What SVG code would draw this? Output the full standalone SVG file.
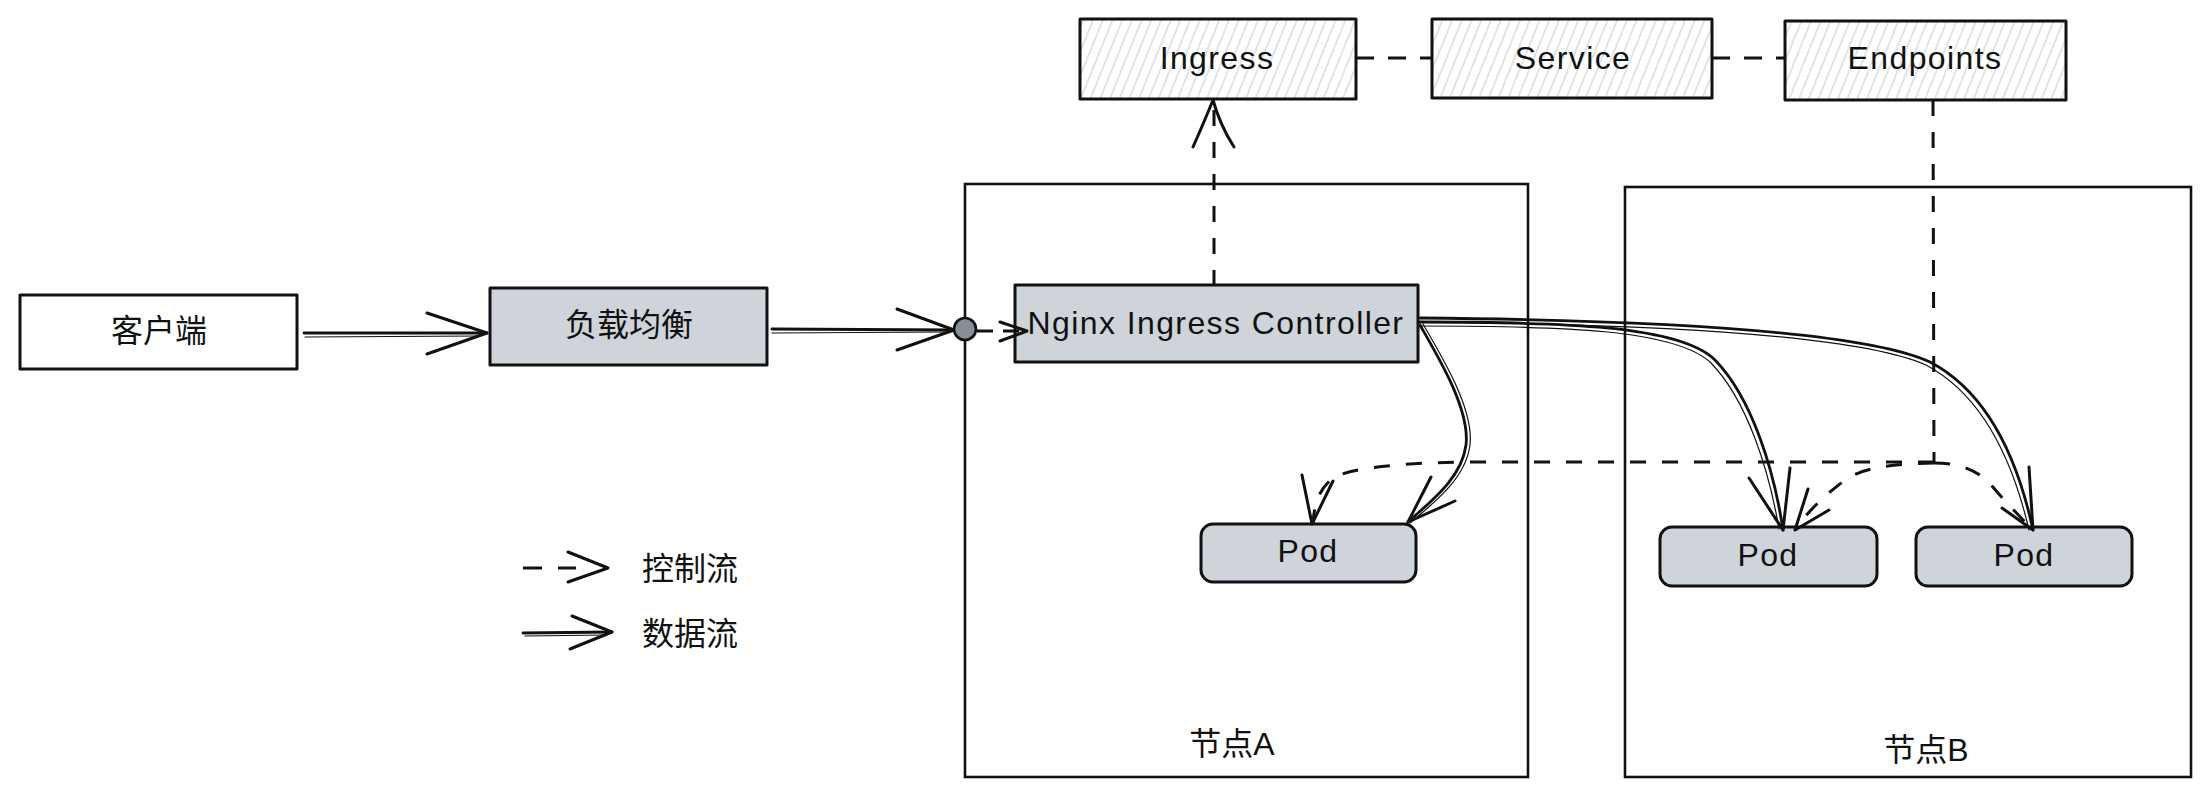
<svg xmlns="http://www.w3.org/2000/svg" width="2208" height="799" viewBox="0 0 2208 799">
<defs>
<pattern id="hatch" width="9" height="9" patternUnits="userSpaceOnUse" patternTransform="rotate(22)">
<line x1="4" y1="0" x2="4" y2="9" stroke="#c9cdd3" stroke-width="1.1"/>
</pattern>
</defs>
<style>
.box{stroke:#111;stroke-width:3;stroke-linejoin:round}
.plain{fill:#ffffff}
.gray{fill:#ced4da}
.hatched{fill:url(#hatch)}
.frame{fill:none;stroke:#111;stroke-width:2.6}
.t{font-family:"Liberation Sans","Noto Sans CJK SC",sans-serif;font-size:32px;fill:#111;text-anchor:middle;dominant-baseline:central}
.e{font-family:"Liberation Sans","Noto Sans",sans-serif;font-size:32px;letter-spacing:1.4px;fill:#111;text-anchor:middle;dominant-baseline:central}
.data{fill:none;stroke:#111;stroke-width:2.8;stroke-linecap:round;stroke-linejoin:round}
.data2{fill:none;stroke:#111;stroke-width:1.2;stroke-linecap:round;stroke-linejoin:round}
.ctrl{fill:none;stroke:#111;stroke-width:3;stroke-dasharray:16 16;stroke-linecap:butt}
.head{fill:none;stroke:#111;stroke-width:3;stroke-linecap:round;stroke-linejoin:round}
</style>
<rect width="2208" height="799" fill="#ffffff"/>

<g id="nodeA">
<rect class="frame" x="965" y="184" width="563" height="593"/>
<text class="t" x="1232" y="744">节点A</text>
</g>
<g id="nodeB">
<rect class="frame" x="1625" y="187" width="566" height="590"/>
<text class="t" x="1926" y="750">节点B</text>
</g>

<g id="client">
<rect class="box plain" x="20" y="295" width="277" height="74"/>
<text class="t" x="159" y="331">客户端</text>
</g>
<g id="lb">
<rect class="box gray" x="490" y="288" width="277" height="77"/>
<text class="t" x="629" y="325">负载均衡</text>
</g>
<g id="ingress">
<rect class="box hatched" x="1080" y="19" width="276" height="80"/>
<text class="e" x="1217" y="58">Ingress</text>
</g>
<g id="service">
<rect class="box hatched" x="1432" y="19" width="280" height="79"/>
<text class="e" x="1573" y="58">Service</text>
</g>
<g id="endpoints">
<rect class="box hatched" x="1785" y="21" width="281" height="79"/>
<text class="e" x="1925" y="58">Endpoints</text>
</g>
<g id="nginx">
<rect class="box gray" x="1015" y="285" width="403" height="77"/>
<text class="e" x="1216" y="323">Nginx Ingress Controller</text>
</g>
<g id="podA">
<rect class="box gray" x="1201" y="524" width="215" height="58" rx="12"/>
<text class="e" x="1308" y="551">Pod</text>
</g>
<g id="podB1">
<rect class="box gray" x="1660" y="527" width="217" height="59" rx="12"/>
<text class="e" x="1768" y="555">Pod</text>
</g>
<g id="podB2">
<rect class="box gray" x="1916" y="527" width="216" height="59" rx="12"/>
<text class="e" x="2024" y="555">Pod</text>
</g>

<g id="connectors">
<!-- client -> lb -->
<path class="data" d="M304,333 L487,333"/>
<path class="data2" d="M305,337 L480,336"/>
<path class="head" d="M427,313 L487,333 L427,354"/>
<!-- lb -> dot -->
<path class="data" d="M772,329 L954,330"/>
<path class="data2" d="M772,333 L945,332"/>
<path class="head" d="M897,309 L954,330 L897,350"/>
<circle cx="965" cy="329" r="11" fill="#868e96" stroke="#111" stroke-width="2.6"/>
<!-- dot -> nginx (control) -->
<path class="ctrl" d="M977,331 L1026,331" style="stroke-dasharray:16 10"/>
<path class="head" d="M1000,322 L1027,331 L1000,341"/>
<!-- nginx -> ingress (control) -->
<path class="ctrl" d="M1214,286 L1214,101"/>
<path class="head" d="M1193,147 Q1205,120 1213,100 Q1220,125 1234,147"/>
<!-- ingress - service - endpoints -->
<path class="ctrl" d="M1356,58 L1432,58" style="stroke-dasharray:18 14"/>
<path class="ctrl" d="M1712,58 L1785,58" style="stroke-dasharray:18 14"/>
<!-- endpoints -> pods (control) -->
<path class="ctrl" d="M1933,100 L1934,462"/>
<path class="ctrl" d="M1934,462 L1463,462 C1400,463 1350,468 1333,478 C1318,490 1314,505 1313,524"/>
<path class="head" d="M1302,475 L1312,524 L1333,481"/>
<path class="ctrl" d="M1934,463 C1890,464 1862,468 1845,480 C1825,495 1806,513 1795,530"/>
<path class="head" d="M1808,489 L1795,530 L1829,510"/>
<path class="ctrl" d="M1934,463 C1960,463 1978,470 1992,486 C2008,505 2022,518 2034,532"/>
<!-- nginx -> pods (data) -->
<path class="data" d="M1420,325 C1440,360 1470,410 1466,445 C1462,478 1430,502 1408,522"/>
<path class="data2" d="M1423,324 C1444,360 1474,410 1470,445 C1466,478 1434,503 1410,523"/>
<path class="head" d="M1431,477 L1408,522 L1455,501"/>
<path class="data" d="M1420,322 C1560,322 1680,325 1715,360 C1752,398 1774,470 1783,530"/>
<path class="data2" d="M1420,326 C1560,326 1676,329 1711,363 C1747,400 1769,470 1779,529"/>
<path class="head" d="M1749,478 L1783,530 L1790,468"/>
<path class="data" d="M1420,318 C1650,320 1860,330 1930,362 C1993,395 2020,470 2033,530"/>
<path class="data2" d="M1420,322 C1650,324 1856,334 1926,365 C1988,398 2015,470 2029,530"/>
<path class="head" d="M2002,508 L2033,530 L2029,467"/>
</g>

<g id="legend">
<path class="ctrl" d="M523,568 L576,568" style="stroke-dasharray:19 16"/>
<path class="head" d="M568,552 L608,568 L568,582"/>
<text class="t" x="690" y="569">控制流</text>
<path class="data" d="M523,633 L612,632"/>
<path class="data2" d="M525,636 L605,635"/>
<path class="head" d="M572,616 L612,632 L570,649"/>
<text class="t" x="690" y="634">数据流</text>
</g>
</svg>
